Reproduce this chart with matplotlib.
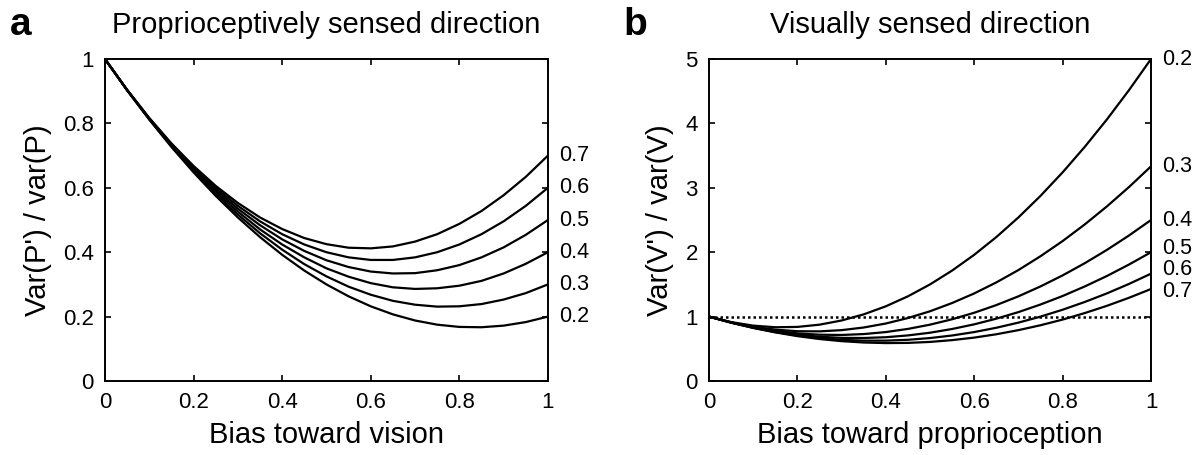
import matplotlib.pyplot as plt
import matplotlib as mpl

mpl.rcParams.update({'font.family': ['Liberation Sans', 'DejaVu Sans'],
                     'font.size': 16,
                     'xtick.direction': 'in',
                     'ytick.direction': 'in',
                     'xtick.top': True,
                     'ytick.right': True,
                     'xtick.major.size': 4,
                     'ytick.major.size': 4,
                     'xtick.major.width': 1.2,
                     'ytick.major.width': 1.2,
                     'axes.linewidth': 1.4})

# bias values (x axis) shared by both panels
bias = [0, 0.05, 0.1, 0.15, 0.2, 0.25, 0.3, 0.35, 0.4, 0.45, 0.5,
        0.55, 0.6, 0.65, 0.7, 0.75, 0.8, 0.85, 0.9, 0.95, 1]

# panel a: var(P') / var(P), one curve per variance ratio
ratio_labels = ['0.2', '0.3', '0.4', '0.5', '0.6', '0.7']
prop_curves = [
    [1, .903, .812, .727, .648, .575, .508, .447, .392, .343, .300,
     .263, .232, .207, .188, .175, .168, .167, .172, .183, .200],
    [1, .903, .813, .729, .652, .581, .517, .459, .408, .363, .325,
     .293, .268, .249, .237, .231, .232, .239, .253, .273, .300],
    [1, .904, .814, .731, .656, .588, .526, .471, .424, .384, .350,
     .324, .304, .291, .286, .288, .296, .311, .334, .364, .400],
    [1, .904, .815, .734, .660, .594, .535, .484, .440, .404, .375,
     .354, .340, .334, .335, .344, .360, .384, .415, .454, .500],
    [1, .904, .816, .736, .664, .600, .544, .496, .456, .424, .400,
     .384, .376, .376, .384, .400, .424, .456, .496, .544, .600],
    [1, .904, .817, .738, .668, .606, .553, .508, .472, .444, .425,
     .414, .412, .418, .433, .456, .488, .528, .577, .634, .700],
]

# panel b: var(V') / var(V)
vis_curves = [
    [1, .915, .860, .835, .840, .875, .940, 1.035, 1.160, 1.315, 1.500,
     1.715, 1.960, 2.235, 2.540, 2.875, 3.240, 3.635, 4.060, 4.515, 5.000],
    [1, .911, .843, .798, .773, .771, .790, .831, .893, .978, 1.083,
     1.211, 1.360, 1.531, 1.723, 1.938, 2.173, 2.431, 2.710, 3.011, 3.333],
    [1, .909, .835, .779, .740, .719, .715, .729, .760, .809, .875,
     .959, 1.060, 1.179, 1.315, 1.469, 1.640, 1.829, 2.035, 2.259, 2.500],
    [1, .908, .830, .768, .720, .688, .670, .668, .680, .708, .750,
     .808, .880, .968, 1.070, 1.188, 1.320, 1.468, 1.630, 1.808, 2.000],
    [1, .907, .827, .760, .707, .667, .640, .627, .627, .640, .667,
     .707, .760, .827, .907, 1.000, 1.107, 1.227, 1.360, 1.507, 1.667],
    [1, .906, .824, .755, .697, .652, .619, .598, .589, .592, .607,
     .635, .674, .726, .790, .866, .954, 1.055, 1.167, 1.292, 1.429],
]

xticks = [0, 0.2, 0.4, 0.6, 0.8, 1]
xticklabels = ['0', '0.2', '0.4', '0.6', '0.8', '1']
yticks_a = [0, 0.2, 0.4, 0.6, 0.8, 1]
yticklabels_a = ['0', '0.2', '0.4', '0.6', '0.8', '1']
yticks_b = [0, 1, 2, 3, 4, 5]

# vertical nudges (points) of the end labels in panel b so they do not collide
nudge_b = [0, 0, 0, 3, 3, -2]

fig = plt.figure(figsize=(11.94, 4.55), dpi=100)
ax1 = fig.add_axes([0.0879, 0.1626, 0.371, 0.7077])
ax2 = fig.add_axes([0.5938, 0.1626, 0.3702, 0.7077])

# 面板 a
for ys, lab in zip(prop_curves, ratio_labels):
    ax1.plot(bias, ys, color='black', lw=1.6)
    ax1.annotate(lab, xy=(1, ys[-1]), xytext=(8, 0), textcoords='offset points',
                 ha='left', va='center', fontsize=15.5, annotation_clip=False)
ax1.set_xlim(0, 1)
ax1.set_ylim(0, 1)
ax1.set_xticks(xticks)
ax1.set_xticklabels(xticklabels)
ax1.set_yticks(yticks_a)
ax1.set_yticklabels(yticklabels_a)
ax1.set_xlabel('Bias toward vision', fontsize=21, labelpad=6)
ax1.set_ylabel("Var(P') / var(P)", fontsize=21, labelpad=8)
ax1.set_title('Proprioceptively sensed direction', fontsize=21, pad=19)
ax1.tick_params(labelsize=16, pad=8)
fig.text(0.008, 0.945, 'a', fontsize=28, fontweight='bold', va='center')

# 面板 b
for ys, lab, dy in zip(vis_curves, ratio_labels, nudge_b):
    ax2.plot(bias, ys, color='black', lw=1.6)
    ax2.annotate(lab, xy=(1, ys[-1]), xytext=(8, dy), textcoords='offset points',
                 ha='left', va='center', fontsize=15.5, annotation_clip=False)
ax2.axhline(1, color='black', lw=1.8, ls=(0, (1, 1.2)))
ax2.set_xlim(0, 1)
ax2.set_ylim(0, 5)
ax2.set_xticks(xticks)
ax2.set_xticklabels(xticklabels)
ax2.set_yticks(yticks_b)
ax2.set_xlabel('Bias toward proprioception', fontsize=21, labelpad=6)
ax2.set_ylabel("Var(V') / var(V)", fontsize=21, labelpad=8)
ax2.set_title('Visually sensed direction', fontsize=21, pad=19)
ax2.tick_params(labelsize=16, pad=8)
fig.text(0.522, 0.945, 'b', fontsize=28, fontweight='bold', va='center')

plt.savefig('out.png', dpi=100)
